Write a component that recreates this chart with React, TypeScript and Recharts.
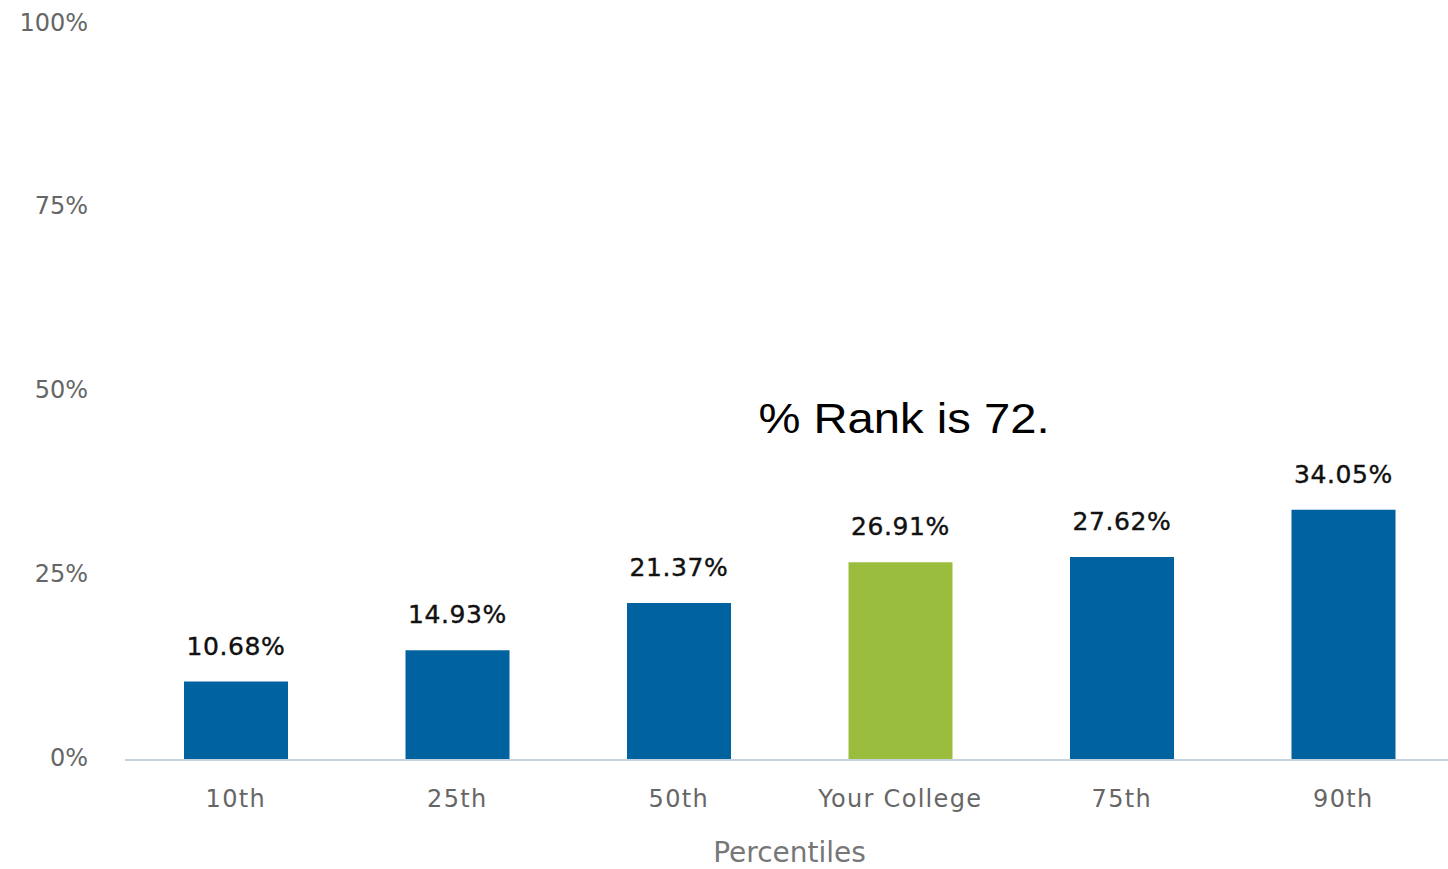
import { BarChart, Bar, XAxis, YAxis, Cell, LabelList, Label } from "recharts";

const categories = ["10th", "25th", "50th", "Your College", "75th", "90th"];
const values = [10.68, 14.93, 21.37, 26.91, 27.62, 34.05];
const yTicks = [0, 25, 50, 75, 100];
const highlight = "Your College";
const rankText = "% Rank is 72.";

const BLUE = "#0063a0";
const GREEN = "#9bbd3e";

// y tick labels sit a few px above their gridline in the original
function YTick(props: any) {
  const { x, y, payload } = props;
  return (
    <text
      x={x}
      y={y - 3}
      dy="0.355em"
      textAnchor="end"
      fill="#666"
      fontSize={24}
      fontFamily="DejaVu Sans"
    >
      {`${payload.value}%`}
    </text>
  );
}

export default function App() {
  const chartData = categories.map((name, i) => ({ name, value: values[i] }));

  return (
    <div
      style={{
        position: "absolute",
        left: 0,
        top: 0,
        width: 1448,
        height: 869,
        overflow: "hidden",
        background: "#fff",
      }}
    >
      <BarChart
        width={1460}
        height={869}
        data={chartData}
        margin={{ top: 25, right: 6, bottom: 0, left: 0 }}
      >
        <XAxis
          dataKey="name"
          height={109}
          tickLine={false}
          tickSize={0}
          tickMargin={30}
          stroke="#c5d3df"
          strokeWidth={2}
          tick={{
            fill: "#666",
            fontSize: 24,
            fontFamily: "DejaVu Sans",
            letterSpacing: 1.3,
          }}
        >
          <Label
            value="Percentiles"
            position="insideBottom"
            offset={7}
            style={{ fill: "#777", fontSize: 28, fontFamily: "DejaVu Sans" }}
          />
        </XAxis>
        <YAxis
          width={125}
          domain={[0, 100]}
          ticks={yTicks}
          axisLine={false}
          tickLine={false}
          tickSize={0}
          tickMargin={37}
          tick={<YTick />}
        />
        <Bar dataKey="value" barSize={104} isAnimationActive={false}>
          {chartData.map((d) => (
            <Cell key={d.name} fill={d.name === highlight ? GREEN : BLUE} />
          ))}
          <LabelList
            dataKey="value"
            position="top"
            offset={27}
            formatter={(v: number) => `${v.toFixed(2)}%`}
            style={{
              fill: "#111",
              fontSize: 25,
              fontFamily: "DejaVu Sans",
              letterSpacing: 0.6,
              stroke: "#111",
              strokeWidth: 0.4,
            }}
          />
        </Bar>
      </BarChart>
      <svg
        width={1448}
        height={869}
        style={{ position: "absolute", left: 0, top: 0, pointerEvents: "none" }}
      >
        <text
          x={904}
          y={433}
          textAnchor="middle"
          fontSize={42}
          fontFamily="Liberation Sans, Arial"
          fill="#000"
          textLength={291}
          lengthAdjust="spacingAndGlyphs"
        >
          {rankText}
        </text>
      </svg>
    </div>
  );
}
